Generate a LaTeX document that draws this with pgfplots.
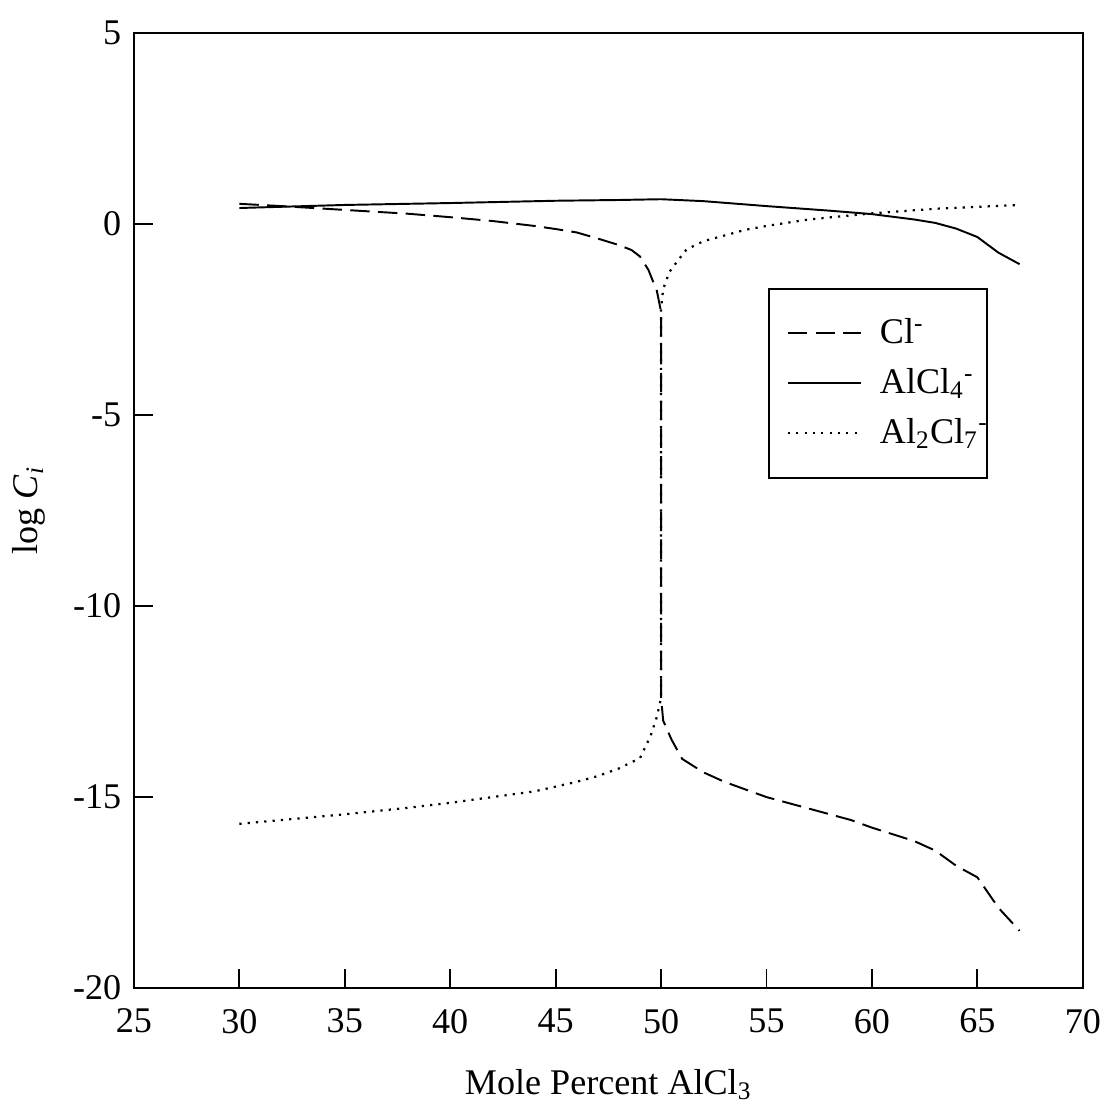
\documentclass[12pt,border=0pt]{standalone}
\usepackage{fontspec}
\setmainfont{Liberation Serif}
\usepackage{pgfplots}
\pgfplotsset{compat=1.18}
\begin{document}
\fontsize{13}{15}\selectfont
\begin{tikzpicture}
\begin{axis}[
  scale only axis, width=341.6pt, height=343.8pt,
  xmin=25, xmax=70, ymin=-20, ymax=5,
  xtick={25,30,...,70}, ytick={-20,-15,...,5},
  tick align=inside, xtick pos=bottom, ytick pos=left,
  major tick length=7pt,
  axis line style={line width=0.8pt},
  every tick/.style={black, line width=0.7pt},
  tick label style={font=\fontsize{13}{15}\selectfont},
  label style={font=\fontsize{13}{15}\selectfont},
  xticklabel style={yshift=-3pt},
  /pgf/number format/assume math mode=true,
  xlabel={Mole Percent AlCl\textsubscript{3}},
  ylabel={log \textit{C}\textsubscript{\textit{i}}},
  xlabel style={yshift=-4pt},
  ylabel style={yshift=1pt},
  legend style={at={(0.668,0.733)}, anchor=north west, draw=black, line width=0.7pt,
     inner xsep=6.5pt, inner ysep=8.5pt, row sep=3pt, legend cell align=left,
     text width=30pt, font=\fontsize{13}{15}\selectfont},
  legend image code/.code={\draw[#1] (0cm,0cm) -- (0.92cm,0cm); \path (1.08cm,0cm);},
]
\addplot[black, line width=0.7pt, dash pattern=on 7pt off 3pt] coordinates {
(30,0.53) (32,0.47) (35,0.37) (38,0.27) (40,0.18) (42,0.08) (44,-0.05) (45,-0.13)
(46,-0.22) (47,-0.38) (48,-0.55) (48.6,-0.68) (49,-0.85) (49.4,-1.2) (49.8,-1.75)
(50,-2.3) (50,-12.4) (50.1,-13.0) (50.5,-13.5) (51,-14.0) (52,-14.35) (53,-14.6)
(55,-15.0) (57,-15.3) (59,-15.6) (60,-15.8) (62,-16.15) (63,-16.4) (64,-16.8)
(65,-17.1) (65.5,-17.5) (66,-17.9) (67,-18.5)};
\addlegendentry{Cl\textsuperscript{-}}
\addplot[black, line width=0.7pt] coordinates {
(30,0.42) (35,0.5) (40,0.55) (45,0.61) (48,0.63) (50,0.65) (52,0.6) (55,0.47)
(58,0.35) (60,0.26) (62,0.12) (63,0.03) (64,-0.12) (65,-0.34) (66,-0.75) (67,-1.05)};
\addlegendentry{AlCl\textsubscript{4}\textsuperscript{-}}
\addplot[black, line width=0.8pt, dash pattern=on 0.8pt off 2.2pt] coordinates {
(30,-15.7) (32,-15.6) (35,-15.45) (38,-15.28) (40,-15.15) (42,-15.0) (44,-14.85)
(46,-14.6) (47,-14.45) (48,-14.25) (49,-13.98) (49.5,-13.4) (49.8,-12.9) (50,-12.4)
(50,-2.2) (50.1,-1.7) (50.4,-1.25) (50.8,-0.95) (51.2,-0.67) (52,-0.45) (53,-0.3)
(54,-0.15) (55,-0.05) (57,0.12) (60,0.28) (63,0.4) (65,0.45) (67,0.5)};
\addlegendentry{Al\textsubscript{2}Cl\textsubscript{7}\textsuperscript{-}}
\end{axis}
\pgfresetboundingbox
\path ([shift={(-48.2pt,-42.8pt)}]current axis.south west) rectangle ([shift={(8.6pt,11.9pt)}]current axis.north east);
\end{tikzpicture}
\end{document}
